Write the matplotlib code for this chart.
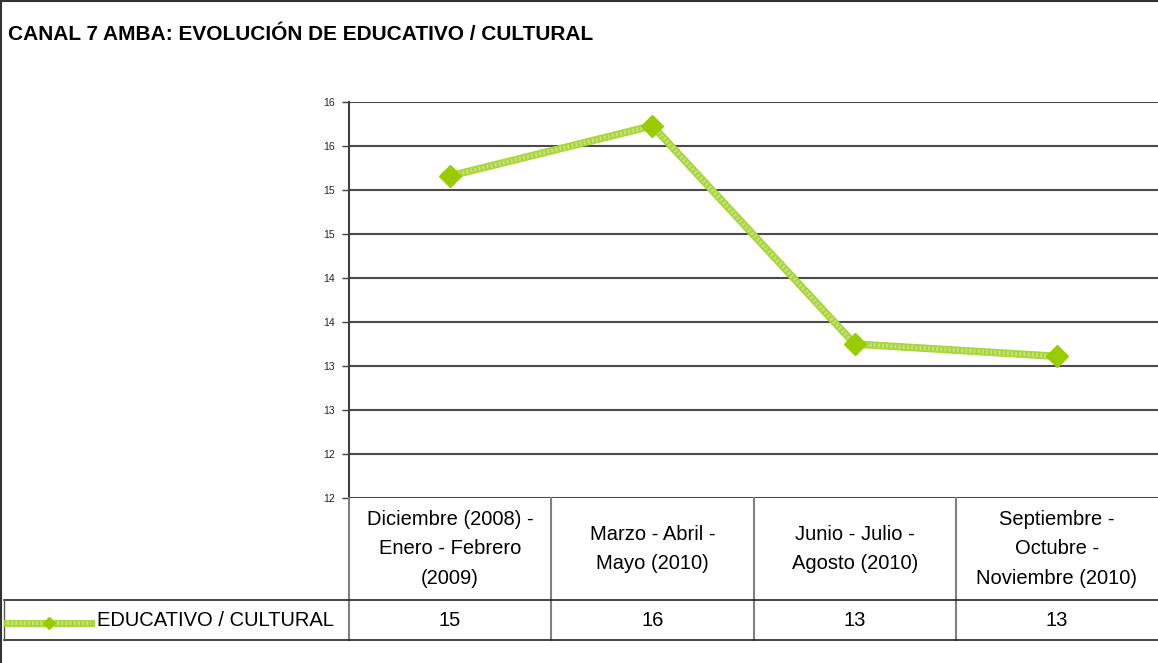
import matplotlib
matplotlib.use("Agg")
import matplotlib.pyplot as plt
from matplotlib.lines import Line2D

plt.rcParams['font.family'] = ['Liberation Sans', 'DejaVu Sans']

titulo = "CANAL 7 AMBA: EVOLUCIÓN DE EDUCATIVO / CULTURAL"
serie = "EDUCATIVO / CULTURAL"
periodos = ["Diciembre (2008) -\nEnero - Febrero\n(2009)",
            "Marzo - Abril -\nMayo (2010)",
            "Junio - Julio -\nAgosto (2010)",
            "Septiembre -\nOctubre -\nNoviembre (2010)"]
valores = [15.16, 15.73, 13.25, 13.11]
y_ticks = [11.5, 12.0, 12.5, 13.0, 13.5, 14.0, 14.5, 15.0, 15.5, 16.0]
y_tick_labels = ["12", "12", "13", "13", "14", "14", "15", "15", "16", "16"]

W, H = 1158, 663
def fx(x):
    return x / W
def fy(y):
    return 1 - y / H

fig = plt.figure(figsize=(W / 100, H / 100), dpi=100)
fig.patch.set_facecolor("white")

# plot area in pixels
L, R, T, B = 349, 1158, 102, 498
ax = fig.add_axes([fx(L), fy(B), fx(R) - fx(L), fy(T) - fy(B)])
ax.set_xlim(-0.5, len(periodos) - 0.5)
ax.set_ylim(y_ticks[0], y_ticks[-1])
ax.set_yticks(y_ticks)
ax.set_yticklabels(y_tick_labels, fontsize=7.5, color="#222222")
ax.set_xticks([])
ax.tick_params(axis="y", direction="out", length=5, width=1, color="#404040", pad=5)
for s in ["top", "right", "bottom"]:
    ax.spines[s].set_visible(False)
ax.spines["left"].set_color("#404040")
ax.spines["left"].set_linewidth(1.5)
ax.grid(axis="y", color="#4a4a4a", linewidth=1.5)
ax.set_axisbelow(True)

xs = list(range(len(valores)))
ax.plot(xs, valores, color="#A9D53A", linewidth=5.4, solid_capstyle="butt", zorder=3)
ax.plot(xs, valores, color="#C4E37A", linewidth=3, linestyle=(0, (0.5, 0.5)), zorder=4)
ax.plot(xs, valores, linestyle="none", marker="D", markersize=11.2,
        color="#99CC00", markeredgecolor="#99CC00", zorder=5)

# title
fig.text(fx(8), fy(40), titulo, fontsize=15, fontweight="bold", ha="left",
         va="baseline", color="black")

# outer frame (left and top)
fig.add_artist(Line2D([fx(0.5), fx(0.5)], [0, 1], color="#333333", lw=1.5))
fig.add_artist(Line2D([0, 1], [fy(0.5), fy(0.5)], color="#333333", lw=1.5))

# data table
row1, row2 = 600, 640
col_w = (R - L) / len(periodos)
fig.add_artist(Line2D([fx(L), fx(L)], [fy(B), fy(row2)], color="#808080", lw=1.5))
for i in range(1, len(periodos)):
    xc = L + i * col_w
    fig.add_artist(Line2D([fx(xc), fx(xc)], [fy(B), fy(row2)], color="#808080", lw=1.5))
fig.add_artist(Line2D([fx(4), fx(R)], [fy(row1), fy(row1)], color="#222222", lw=1.2))
fig.add_artist(Line2D([fx(4), fx(R)], [fy(row2), fy(row2)], color="#222222", lw=1.2))
fig.add_artist(Line2D([fx(3.5), fx(3.5)], [fy(row1), fy(row2)], color="#555555", lw=1))

for i, (p, v) in enumerate(zip(periodos, valores)):
    xc = L + (i + 0.5) * col_w
    fig.text(fx(xc), fy((B + row1) / 2), p, ha="center", va="center",
             fontsize=14.5, linespacing=1.7, color="black")
    fig.text(fx(xc), fy((row1 + row2) / 2), f"{v:.0f}", ha="center", va="center",
             fontsize=14.5, color="black")

# legend key in the table
fig.add_artist(Line2D([fx(7), fx(91)], [fy(623), fy(623)], color="#A9D53A", lw=5))
fig.add_artist(Line2D([fx(7), fx(91)], [fy(623), fy(623)], color="#C4E37A", lw=3,
                      linestyle=(0, (0.5, 0.5))))
fig.add_artist(Line2D([fx(49)], [fy(623)], marker="D", markersize=6.6,
                      color="#99CC00", linestyle="none"))
fig.text(fx(97), fy(620), serie, ha="left", va="center", fontsize=14.5, color="black")

fig.savefig("out.png", dpi=100)
